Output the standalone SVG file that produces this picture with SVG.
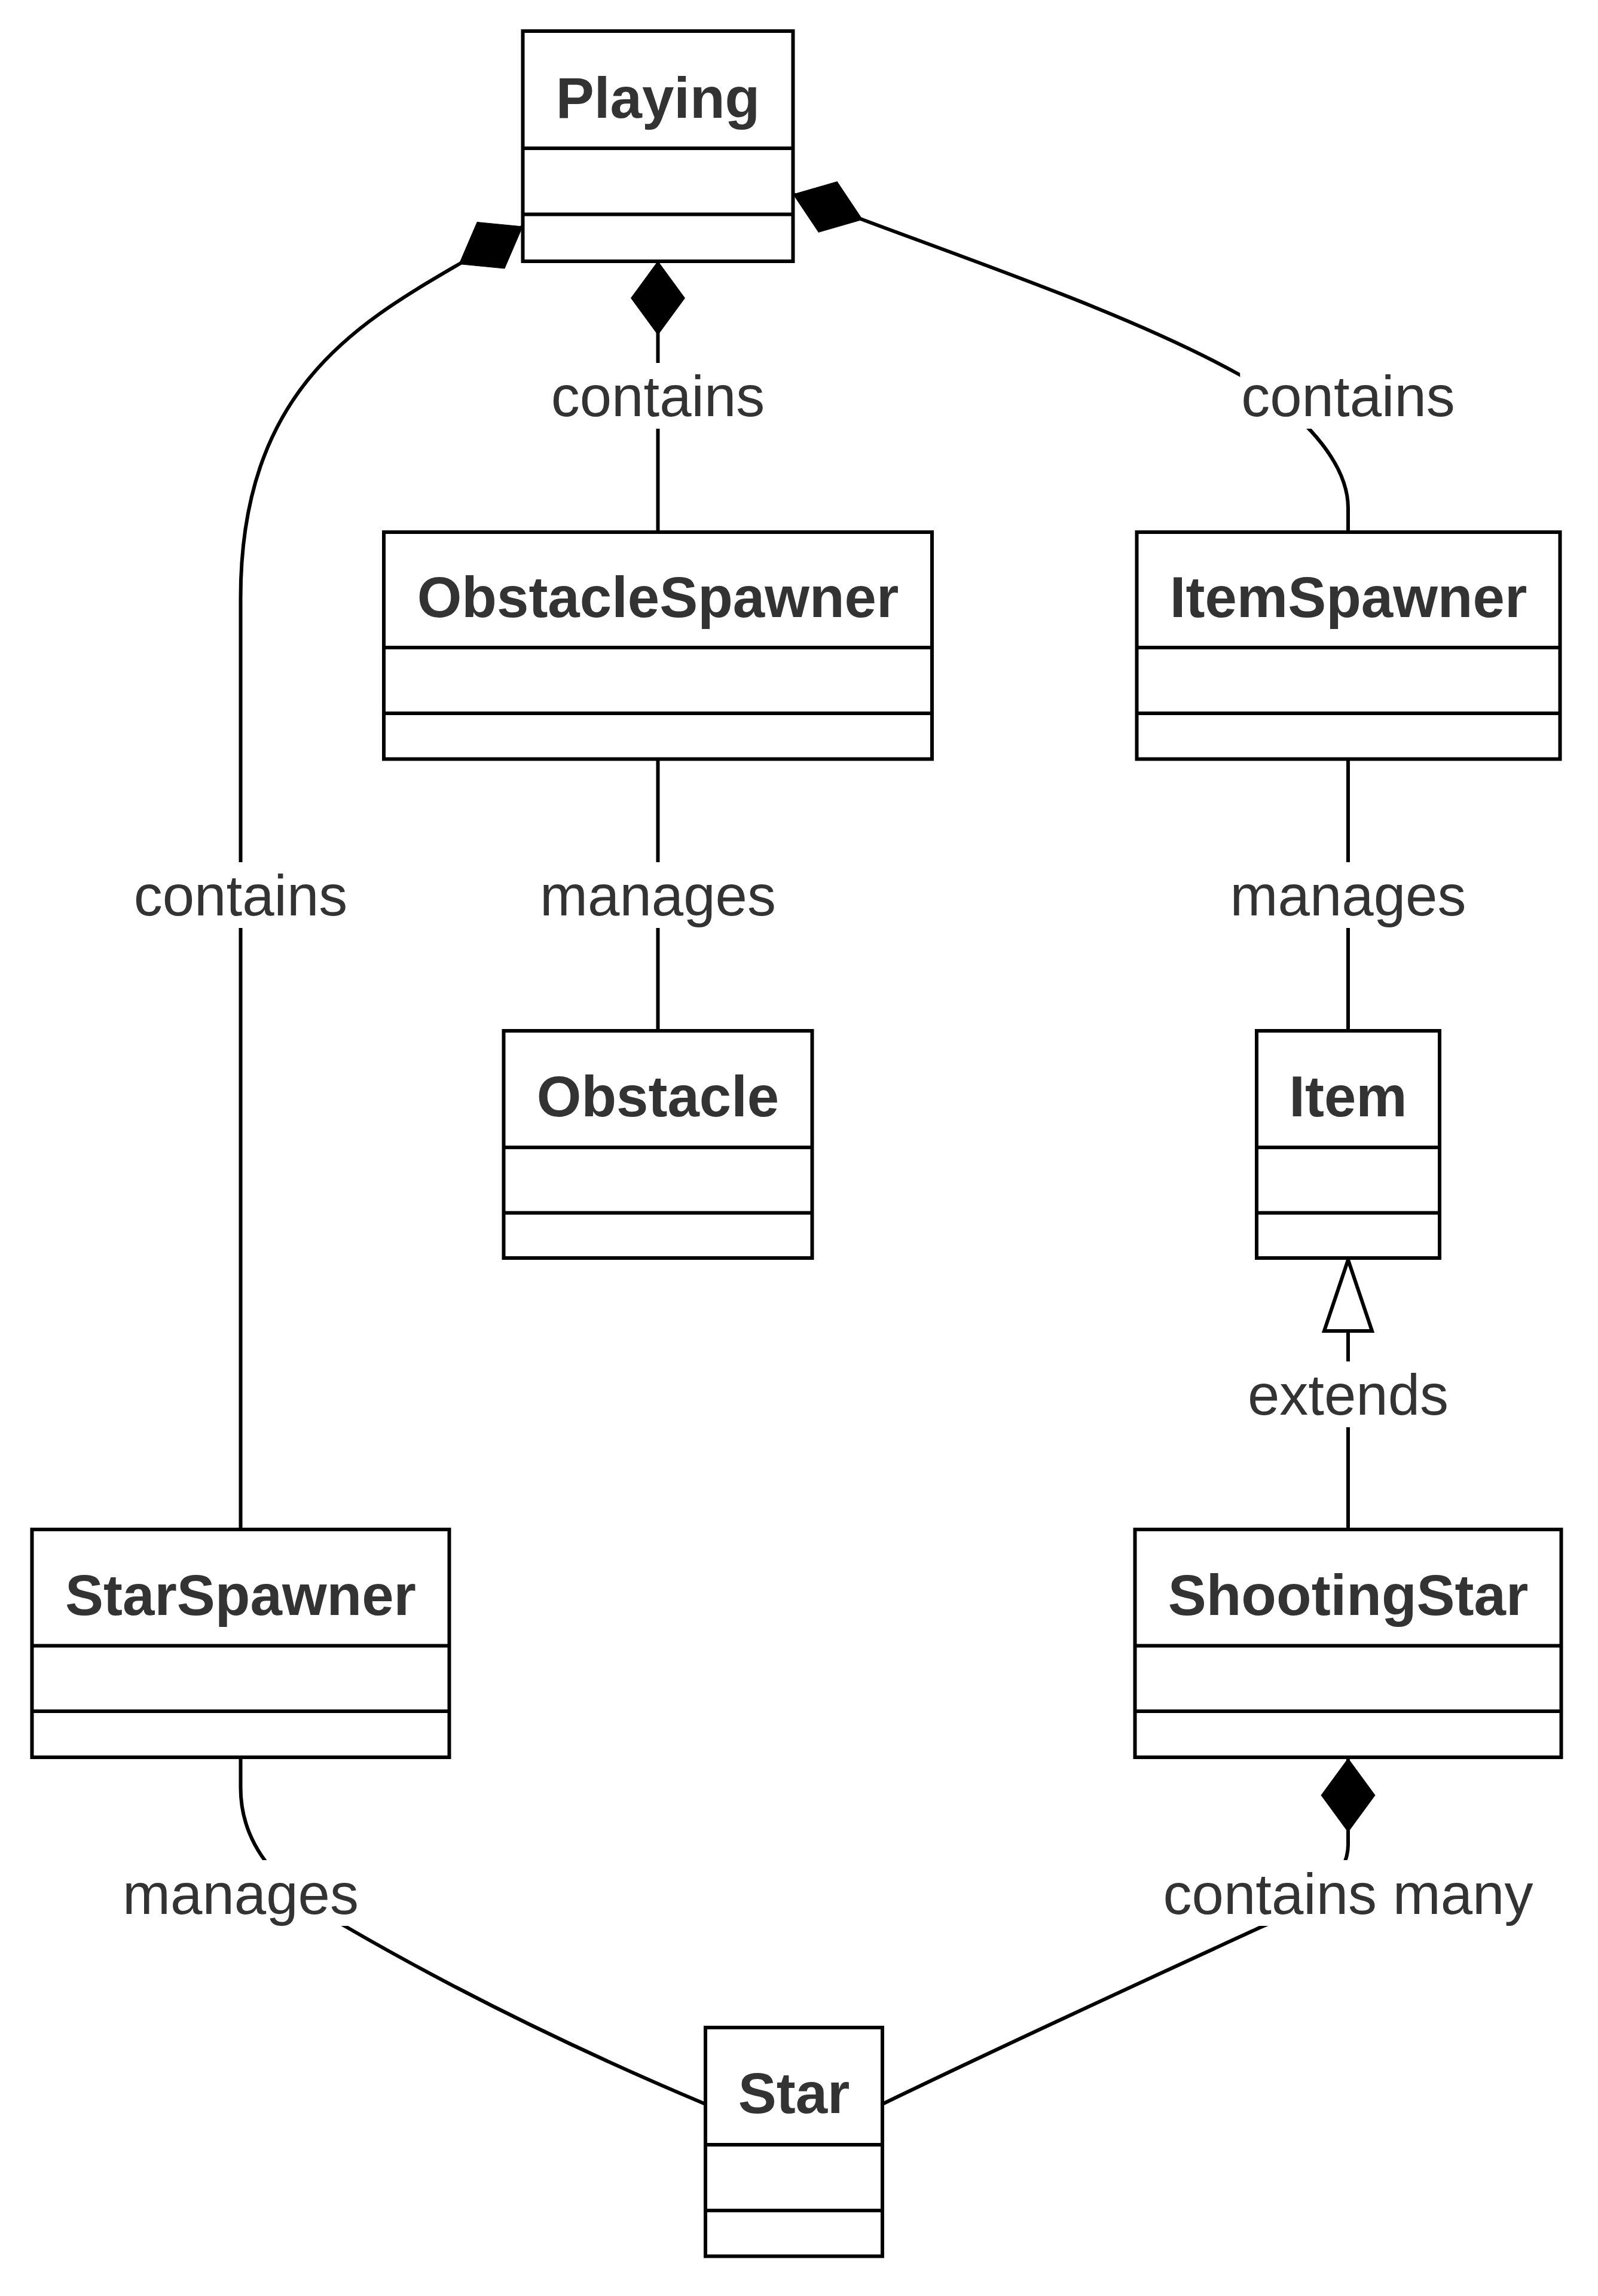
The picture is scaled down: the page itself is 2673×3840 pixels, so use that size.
<svg xmlns="http://www.w3.org/2000/svg" width="2673" height="3840" viewBox="0 0 2673 3840">
<style>
.box{fill:#fff;stroke:#000;stroke-width:6}
.div{stroke:#000;stroke-width:6}
.title{font-family:"Liberation Sans",Arial,sans-serif;font-size:96px;font-weight:bold;fill:#333;text-anchor:middle}
.edge{fill:none;stroke:#000;stroke-width:6}
.lbg{fill:#fff;stroke:none}
.lbl{font-family:"Liberation Sans",Arial,sans-serif;font-size:96px;fill:#333;text-anchor:middle}
</style>
<defs>
<marker id="composition" viewBox="-4 -50 134 100" refX="0" refY="0" markerWidth="134" markerHeight="100" markerUnits="userSpaceOnUse" orient="auto" overflow="visible">
<path d="M0,0 L61.5,-45 L123,0 L61.5,45 Z" fill="#000" stroke="#000" stroke-width="1"/>
</marker>
<marker id="extension" viewBox="-8 -50 140 100" refX="0" refY="0" markerWidth="140" markerHeight="100" markerUnits="userSpaceOnUse" orient="auto" overflow="visible">
<path d="M0,0 L119,-40 L119,40 Z" fill="#fff" stroke="#000" stroke-width="6"/>
</marker>
</defs>
<rect width="2673" height="3840" fill="#fff"/>
<g id="connectors">
<g id="edge-playing-obstaclespawner">
<path class="edge" d="M1100.5,437 L1100.5,890" marker-start="url(#composition)"/>
<rect class="lbg" x="919.75" y="607" width="361.5" height="110"/>
<text class="lbl" x="1100.5" y="696">contains</text>
</g>
<g id="edge-playing-itemspawner">
<path class="edge" d="M1327,325 L1442,367 C1650,445 1900,530 2074,627 C2150,670 2255,760 2255,850 L2255,890" marker-start="url(#composition)"/>
<rect class="lbg" x="2074.25" y="607" width="361.5" height="110"/>
<text class="lbl" x="2255" y="696">contains</text>
</g>
<g id="edge-playing-starspawner">
<path class="edge" d="M874,379 L769,441 C600,540 402.5,650 402.5,1000 L402.5,2558" marker-start="url(#composition)"/>
<rect class="lbg" x="221.75" y="1442" width="361.5" height="110"/>
<text class="lbl" x="402.5" y="1531">contains</text>
</g>
<g id="edge-obstaclespawner-obstacle">
<path class="edge" d="M1100.5,1269.5 L1100.5,1724"/>
<rect class="lbg" x="901" y="1442" width="399" height="110"/>
<text class="lbl" x="1100.5" y="1531">manages</text>
</g>
<g id="edge-itemspawner-item">
<path class="edge" d="M2255,1269.5 L2255,1724"/>
<rect class="lbg" x="2055.5" y="1442" width="399" height="110"/>
<text class="lbl" x="2255" y="1531">manages</text>
</g>
<g id="edge-item-shootingstar">
<path class="edge" d="M2255,2107 L2255,2558" marker-start="url(#extension)"/>
<rect class="lbg" x="2085" y="2277" width="340" height="110"/>
<text class="lbl" x="2255" y="2366">extends</text>
</g>
<g id="edge-starspawner-star">
<path class="edge" d="M402.5,2939 L402.5,2990 C402.5,3090 470,3160 578,3222 C778,3338 980,3435 1180,3519"/>
<rect class="lbg" x="203" y="3111" width="399" height="110"/>
<text class="lbl" x="402.5" y="3201">manages</text>
</g>
<g id="edge-shootingstar-star">
<path class="edge" d="M2255,2941 L2255,3085 C2255,3140 2200,3185 2107,3224 C1920,3310 1680,3420 1476,3519" marker-start="url(#composition)"/>
<rect class="lbg" x="1943.5" y="3111" width="623" height="110"/>
<text class="lbl" x="2255" y="3201">contains many</text>
</g>
</g>
<g id="node-Playing">
<rect class="box" x="874.5" y="52" width="452" height="385"/>
<line class="div" x1="874.5" y1="248" x2="1326.5" y2="248"/>
<line class="div" x1="874.5" y1="358.5" x2="1326.5" y2="358.5"/>
<text class="title" x="1100.5" y="197">Playing</text>
</g>
<g id="node-ObstacleSpawner">
<rect class="box" x="642" y="890" width="917" height="379.5"/>
<line class="div" x1="642" y1="1083" x2="1559" y2="1083"/>
<line class="div" x1="642" y1="1193" x2="1559" y2="1193"/>
<text class="title" x="1100.5" y="1031.5">ObstacleSpawner</text>
</g>
<g id="node-ItemSpawner">
<rect class="box" x="1901.5" y="890" width="708" height="379.5"/>
<line class="div" x1="1901.5" y1="1083" x2="2609.5" y2="1083"/>
<line class="div" x1="1901.5" y1="1193" x2="2609.5" y2="1193"/>
<text class="title" x="2255.5" y="1031.5">ItemSpawner</text>
</g>
<g id="node-Obstacle">
<rect class="box" x="842.5" y="1724" width="516" height="380"/>
<line class="div" x1="842.5" y1="1919" x2="1358.5" y2="1919"/>
<line class="div" x1="842.5" y1="2028.5" x2="1358.5" y2="2028.5"/>
<text class="title" x="1100.5" y="1866.5">Obstacle</text>
</g>
<g id="node-Item">
<rect class="box" x="2102" y="1724" width="306" height="380"/>
<line class="div" x1="2102" y1="1919" x2="2408" y2="1919"/>
<line class="div" x1="2102" y1="2028.5" x2="2408" y2="2028.5"/>
<text class="title" x="2255" y="1866.5">Item</text>
</g>
<g id="node-StarSpawner">
<rect class="box" x="53.5" y="2558" width="698" height="381"/>
<line class="div" x1="53.5" y1="2752.5" x2="751.5" y2="2752.5"/>
<line class="div" x1="53.5" y1="2862" x2="751.5" y2="2862"/>
<text class="title" x="402.5" y="2700.5">StarSpawner</text>
</g>
<g id="node-ShootingStar">
<rect class="box" x="1898.5" y="2558" width="713" height="381"/>
<line class="div" x1="1898.5" y1="2752.5" x2="2611.5" y2="2752.5"/>
<line class="div" x1="1898.5" y1="2862" x2="2611.5" y2="2862"/>
<text class="title" x="2255" y="2700.5">ShootingStar</text>
</g>
<g id="node-Star">
<rect class="box" x="1180" y="3391" width="296" height="382.5"/>
<line class="div" x1="1180" y1="3587" x2="1476" y2="3587"/>
<line class="div" x1="1180" y1="3697" x2="1476" y2="3697"/>
<text class="title" x="1328" y="3534">Star</text>
</g>
</svg>
